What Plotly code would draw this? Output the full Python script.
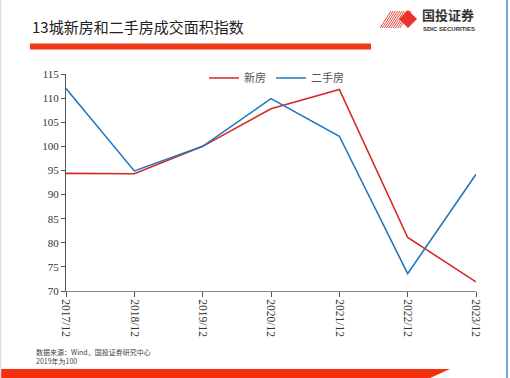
import plotly.graph_objects as go

categories = ["2017/12", "2018/12", "2019/12", "2020/12", "2021/12", "2022/12", "2023/12"]
new_house = [94.4, 94.3, 100.0, 107.8, 111.8, 81.1, 71.9]
second_hand = [112.0, 94.9, 100.0, 109.9, 102.1, 73.6, 94.2]
y_ticks = [70, 75, 80, 85, 90, 95, 100, 105, 110, 115]

W, H = 510, 378
L, R, T, B = 66, 476, 74, 291

def px(x):
    return (x - L) / (R - L)

def py(y):
    return (B - y) / (B - T)

xs = list(range(len(categories)))

fig = go.Figure()
fig.add_trace(go.Scatter(x=xs, y=new_house, mode="lines", name="新房",
                         line=dict(color="#d42a24", width=1.6)))
fig.add_trace(go.Scatter(x=xs, y=second_hand, mode="lines", name="二手房",
                         line=dict(color="#2079c0", width=1.6)))

shapes = []
# top red bar
shapes.append(dict(type="rect", xref="paper", yref="paper", x0=px(30), x1=px(371), y0=py(49.5), y1=py(43.5),
                   fillcolor="#f03a16", line=dict(width=0), layer="above"))
# bottom red bar with slanted end
path = f"M {px(0)} {py(369)} L {px(450)} {py(369)} L {px(430)} {py(378)} L {px(0)} {py(378)} Z"
shapes.append(dict(type="path", xref="paper", yref="paper", path=path,
                   fillcolor="#f5300f", line=dict(width=0), layer="above"))
# right and left edge lines
shapes.append(dict(type="line", xref="paper", yref="paper", x0=px(507), x1=px(507), y0=py(0), y1=py(378),
                   line=dict(color="#4a86c8", width=1.5)))
shapes.append(dict(type="line", xref="paper", yref="paper", x0=px(0.5), x1=px(0.5), y0=py(0), y1=py(378),
                   line=dict(color="#cfe3f5", width=1.5)))
# logo stripes
for i in range(10):
    bx = 380 + i * 2.2
    shapes.append(dict(type="line", xref="paper", yref="paper",
                       x0=px(bx), y0=py(28), x1=px(bx + 11), y1=py(11),
                       line=dict(color="#e8342a", width=0.9)))
# logo diamond
dpath = f"M {px(408)} {py(10)} L {px(417)} {py(19)} L {px(408)} {py(28)} L {px(399)} {py(19)} Z"
shapes.append(dict(type="path", xref="paper", yref="paper", path=dpath,
                   fillcolor="#e8342a", line=dict(width=0)))

annotations = [
    dict(text="13城新房和二手房成交面积指数", x=px(30), y=py(26), xref="paper", yref="paper",
         xanchor="left", yanchor="middle", showarrow=False,
         font=dict(size=15, color="#222222", family="Noto Sans CJK SC")),
    dict(text="<b>国投证券</b>", x=px(420), y=py(15), xref="paper", yref="paper",
         xanchor="left", yanchor="middle", showarrow=False,
         font=dict(size=13, color="#333333", family="Noto Sans CJK SC")),
    dict(text="<b>SDIC SECURITIES</b>", x=px(420.5), y=py(29), xref="paper", yref="paper",
         xanchor="left", yanchor="middle", showarrow=False,
         font=dict(size=6, color="#333333", family="Liberation Sans")),
    dict(text="数据来源：Wind，国投证券研究中心", x=px(34), y=py(352), xref="paper", yref="paper",
         xanchor="left", yanchor="middle", showarrow=False,
         font=dict(size=7, color="#444444", family="Noto Sans CJK SC")),
    dict(text="2019年为100", x=px(34), y=py(361), xref="paper", yref="paper",
         xanchor="left", yanchor="middle", showarrow=False,
         font=dict(size=7, color="#444444", family="Noto Sans CJK SC")),
]

fig.update_layout(
    width=W, height=H,
    margin=dict(l=L, r=W - R, t=T, b=H - B, autoexpand=False),
    paper_bgcolor="white", plot_bgcolor="white",
    showlegend=True,
    legend=dict(orientation="h", x=px(204), y=py(78), xanchor="left", yanchor="middle",
                font=dict(size=11, color="#555555", family="Noto Sans CJK SC"),
                bgcolor="rgba(0,0,0,0)", itemwidth=30, tracegroupgap=0),
    shapes=shapes,
    annotations=annotations,
    xaxis=dict(range=[0, len(categories) - 1], tickvals=xs, ticktext=categories,
               tickangle=90, showgrid=False, zeroline=False, automargin=False,
               showline=True, linecolor="#888888", linewidth=1,
               ticks="outside", ticklen=5, tickcolor="#555555",
               tickfont=dict(family="Liberation Serif", size=11.5, color="#333333")),
    yaxis=dict(range=[70, 115], tickvals=y_ticks, showgrid=False, zeroline=False, automargin=False,
               showline=True, linecolor="#555555", linewidth=1,
               ticks="outside", ticklen=4, tickcolor="#555555",
               tickfont=dict(family="Liberation Serif", size=11, color="#333333")),
)

fig.write_html("out.html", config={"displayModeBar": False},
               post_script="document.body.style.margin='0';document.body.style.overflow='hidden';")
